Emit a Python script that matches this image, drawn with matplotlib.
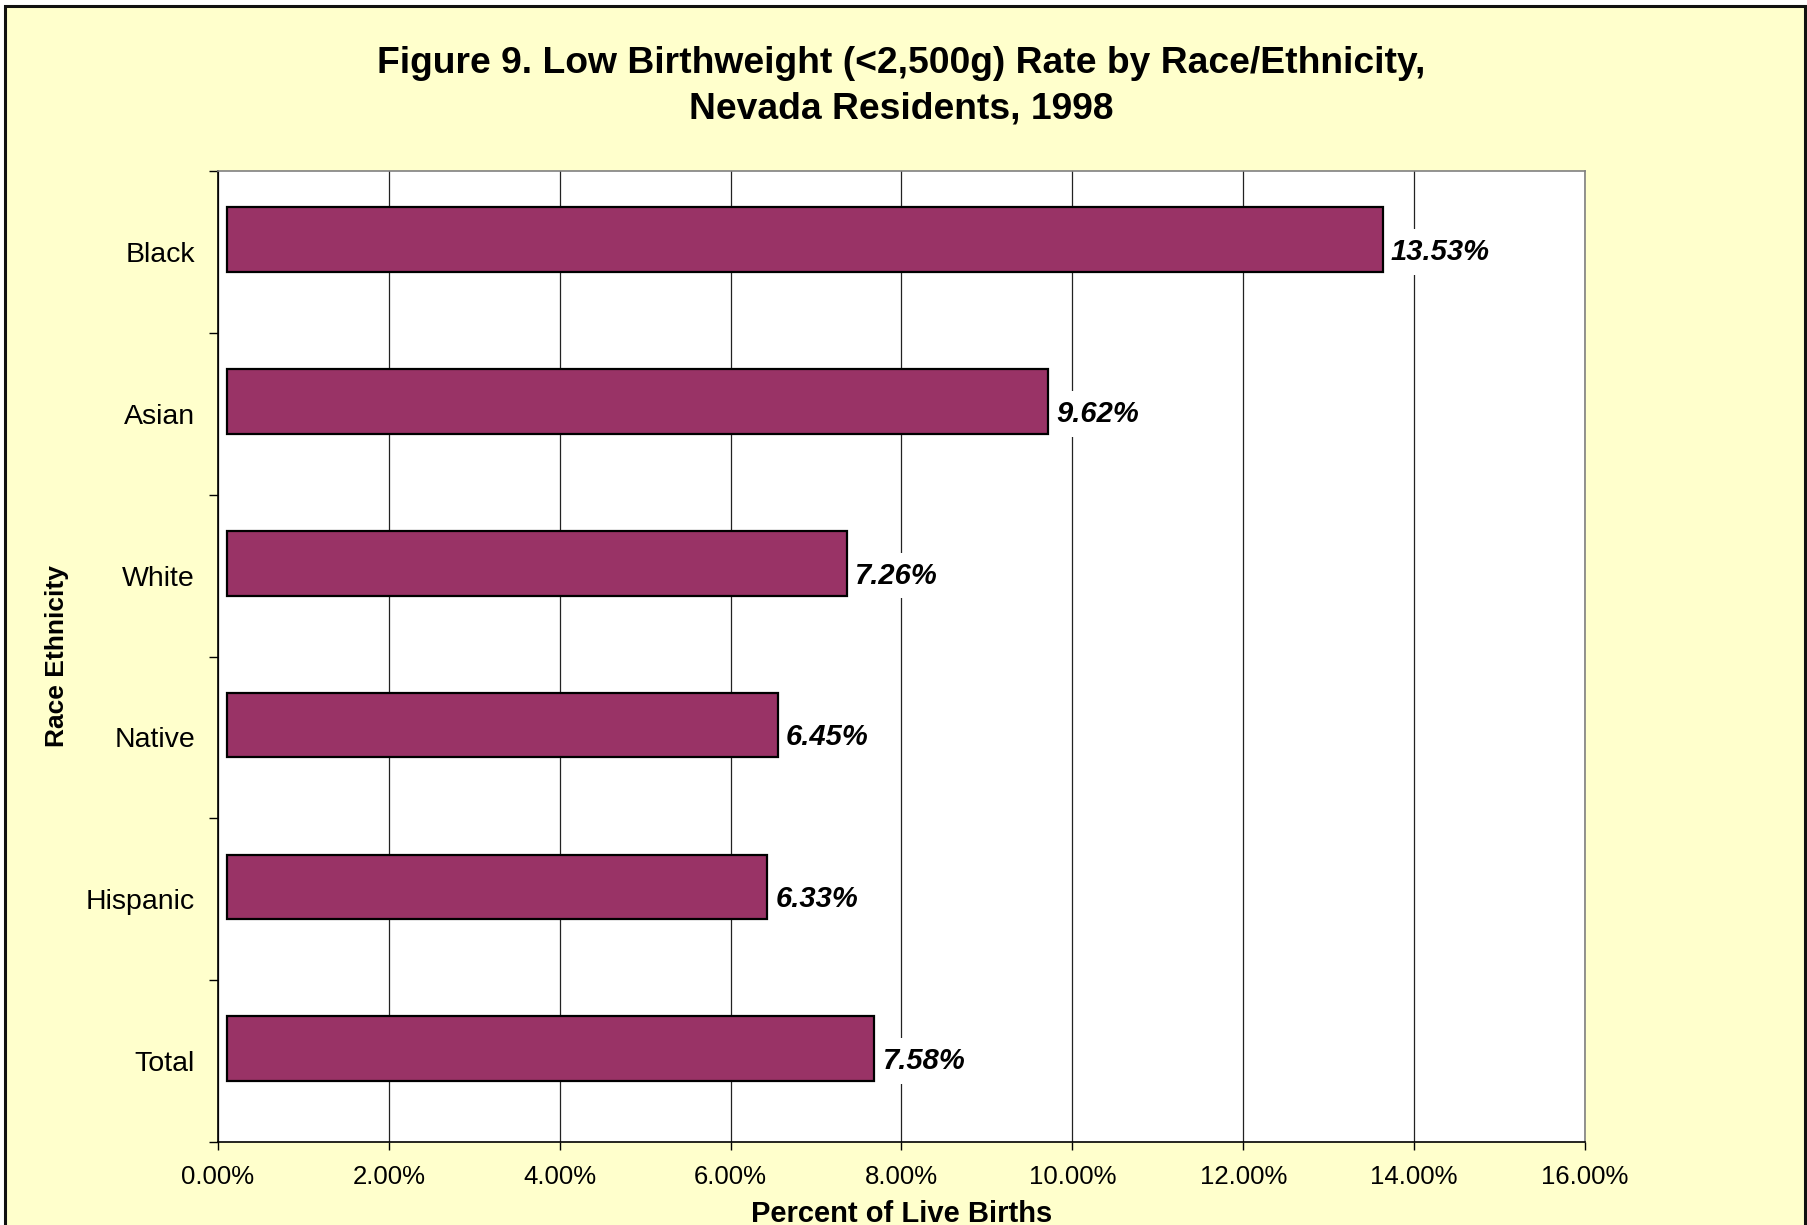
import numpy as np
import matplotlib
matplotlib.use("Agg")
import matplotlib.pyplot as plt
from matplotlib.patches import Rectangle

plt.rcParams['font.family'] = ['Liberation Sans', 'DejaVu Sans']

# data
categories = ['Black', 'Asian', 'White', 'Native', 'Hispanic', 'Total']
rates = [13.53, 9.62, 7.26, 6.45, 6.33, 7.58]
x_ticks = [0, 2, 4, 6, 8, 10, 12, 14, 16]

W, H = 1808, 1225
fig = plt.figure(figsize=(W / 100, H / 100), dpi=100, facecolor='white')

# yellow chart area with a dark frame (bottom edge falls outside the picture)
fig.add_artist(Rectangle((5.5 / W, -0.05), 1800 / W, 1.05 - 5.5 / H, transform=fig.transFigure,
	facecolor='#FFFFCC', edgecolor='#111111', linewidth=2.2, zorder=-10))

# plot area in pixels: left 218, right 1585, top 171, bottom 1142
ax = fig.add_axes([218 / W, 1 - 1142 / H, (1585 - 218) / W, (1142 - 171) / H])
ax.set_facecolor('white')

ypos = np.arange(len(categories))
# the original renders bars nudged a little right and up
ax.barh(ypos - 0.076, rates, height=0.4, left=0.1, color='#993366',
	edgecolor='black', linewidth=1.6, zorder=4)

for y, v in zip(ypos, rates):
	ax.annotate('%.2f%%' % v, (v + 0.1, y), xytext=(6, 0), textcoords='offset points',
		ha='left', va='center', fontsize=21, fontweight='bold', fontstyle='italic',
		bbox=dict(boxstyle='square,pad=0.3', facecolor='white', edgecolor='none'),
		zorder=3)

ax.set_xlim(0, 16)
ax.set_ylim(len(categories) - 0.5, -0.5)
ax.set_xticks(x_ticks)
ax.set_xticklabels(['%.2f%%' % t for t in x_ticks], fontsize=18.5)
ax.set_yticks(ypos)
ax.set_yticklabels(categories, fontsize=20.5)
ax.set_yticks(np.arange(-0.5, len(categories), 1), minor=True)

ax.tick_params(axis='y', which='major', length=0, pad=16.5)
ax.tick_params(axis='y', which='minor', length=6.5, width=1, direction='out')
ax.tick_params(axis='x', length=5.5, width=1, direction='out', pad=11)

ax.grid(axis='x', color='#222222', linewidth=0.9, zorder=0)
ax.set_axisbelow(True)

for side in ['top', 'right']:
	ax.spines[side].set_color('#808080')
	ax.spines[side].set_linewidth(1.2)
for side in ['left', 'bottom']:
	ax.spines[side].set_color('black')
	ax.spines[side].set_linewidth(1.2)

ax.set_xlabel('Percent of Live Births', fontsize=21, fontweight='bold')
ax.xaxis.set_label_coords(0.5, -(1214 - 1142) / (1142 - 171))
ax.xaxis.label.set_va('center')
ax.set_ylabel('Race Ethnicity', fontsize=19, fontweight='bold')
ax.yaxis.set_label_coords(-(218 - 57) / (1585 - 218), 0.5)
ax.yaxis.label.set_va('center')

fig.text(901 / W, 1 - 63.5 / H, 'Figure 9. Low Birthweight (<2,500g) Rate by Race/Ethnicity,',
	ha='center', va='center', fontsize=26.8, fontweight='bold')
fig.text(901 / W, 1 - 109.5 / H, 'Nevada Residents, 1998',
	ha='center', va='center', fontsize=26.8, fontweight='bold')

fig.savefig('out.png', dpi=100, facecolor=fig.get_facecolor())
